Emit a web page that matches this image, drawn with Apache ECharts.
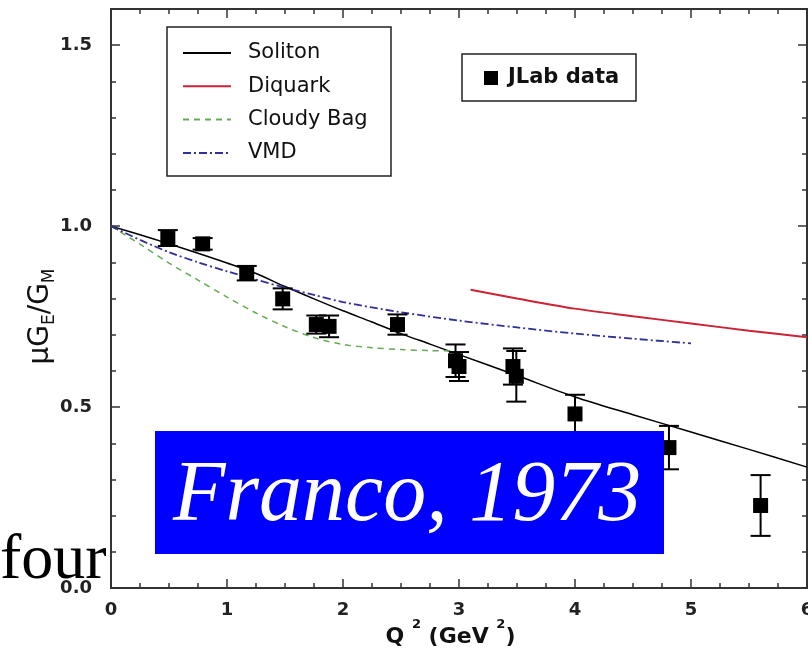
<!DOCTYPE html>
<html><head><meta charset="utf-8">
<script src="https://cdn.jsdelivr.net/npm/echarts@6/dist/echarts.min.js"></script>
<style>html,body{margin:0;padding:0;background:#fff;} #c{width:808px;height:658px;}</style>
</head><body><div id="c"></div>
<script>
// ---- data ----
const solitonX = [0, 0.25, 0.5, 0.75, 1, 1.25, 1.5, 1.75, 2, 2.25, 2.5, 2.75, 3, 3.5, 4, 4.5, 5, 5.5, 6];
const solitonY = [1.0, 0.976, 0.951, 0.925, 0.898, 0.869, 0.833, 0.799, 0.766, 0.735, 0.703, 0.674, 0.645, 0.587, 0.528, 0.479, 0.431, 0.383, 0.334];
const diquarkX = [3.1, 3.5, 4, 4.5, 5, 5.5, 6];
const diquarkY = [0.824, 0.800, 0.772, 0.751, 0.731, 0.711, 0.693];
const bagX = [0, 0.25, 0.5, 0.75, 1, 1.25, 1.5, 1.75, 2, 2.25, 2.5, 2.75, 2.95];
const bagY = [1.0, 0.950, 0.898, 0.851, 0.804, 0.760, 0.722, 0.692, 0.673, 0.664, 0.659, 0.656, 0.655];
const vmdX = [0, 0.25, 0.5, 0.75, 1, 1.25, 1.5, 1.75, 2, 2.5, 3, 3.5, 4, 4.5, 5];
const vmdY = [1.0, 0.962, 0.928, 0.900, 0.875, 0.852, 0.830, 0.810, 0.790, 0.762, 0.739, 0.720, 0.703, 0.689, 0.676];
const jlabX = [0.49, 0.79, 1.17, 1.48, 1.77, 1.88, 2.47, 2.97, 3.0, 3.465, 3.494, 4.0, 4.81, 5.6];
const jlabY = [0.967, 0.951, 0.870, 0.799, 0.728, 0.723, 0.728, 0.628, 0.612, 0.612, 0.585, 0.481, 0.388, 0.228];
const jlabErr = [0.022, 0.016, 0.020, 0.029, 0.025, 0.030, 0.028, 0.045, 0.040, 0.050, 0.070, 0.053, 0.060, 0.084];
const yTicks = ['0.0', '0.5', '1.0', '1.5'];
const xTicks = ['0', '1', '2', '3', '4', '5', '6'];
const legendNames = ['Soliton', 'Diquark', 'Cloudy Bag', 'VMD'];
const dataName = 'JLab data';
const stampText = 'Franco, 1973';
const sideText = 'four';

const zip = (xs, ys) => xs.map((x, i) => [x, ys[i]]);
const errData = jlabX.map((x, i) => [x, jlabY[i] - jlabErr[i], jlabY[i] + jlabErr[i]]);

const axisColor = '#333';
const tickFont = {fontFamily: 'DejaVu Sans', fontWeight: 'bold', fontSize: 18, color: '#222'};

function xAx(pos, labels) {
  return {
    type: 'value', position: pos, min: 0, max: 6, interval: 1,
    axisLine: {show: true, onZero: false, lineStyle: {color: axisColor, width: 2}},
    axisTick: {show: true, inside: true, length: 9, lineStyle: {color: axisColor, width: 1.5}},
    minorTick: {show: true, splitNumber: 4, length: 5, lineStyle: {color: axisColor, width: 1.5}},
    splitLine: {show: false}, minorSplitLine: {show: false},
    axisLabel: labels ? Object.assign({show: true, margin: 13, formatter: v => xTicks[Math.round(v)]}, tickFont) : {show: false}
  };
}
function yAx(pos, interval, len, labels) {
  return {
    type: 'value', position: pos, min: 0, max: 1.6, interval: interval,
    axisLine: {show: true, onZero: false, lineStyle: {color: axisColor, width: 2}},
    axisTick: {show: true, inside: true, length: len, lineStyle: {color: axisColor, width: 1.5}},
    splitLine: {show: false},
    axisLabel: labels ? Object.assign({show: true, margin: 19, showMaxLabel: false, formatter: v => yTicks[Math.round(v / 0.5)] || ''}, tickFont) : {show: false}
  };
}

const xMain = xAx('bottom', true);
xMain.name = '{m|Q }{p|2}{m| (GeV }{p|2}{m|)}{z|\u200b}';
xMain.nameLocation = 'middle';
xMain.nameGap = 30;
xMain.nameMoveOverlap = false;
xMain.nameTextStyle = {
  padding: [0, 17, 0, 0],
  rich: {
    m: {fontFamily: 'DejaVu Sans', fontWeight: 'bold', fontSize: 22, lineHeight: 24, verticalAlign: 'bottom', color: '#111'},
    p: {fontFamily: 'DejaVu Sans', fontWeight: 'bold', fontSize: 13, lineHeight: 13, verticalAlign: 'top', color: '#111'},
    z: {fontSize: 10, lineHeight: 30}
  }
};

const yMain = yAx('left', 0.5, 9, true);
yMain.name = '{m|\u03bcG}{s|E}{m|/G}{s|M}{z|\u200b}';
yMain.nameLocation = 'middle';
yMain.nameRotate = 90;
yMain.nameGap = 53;
yMain.nameMoveOverlap = false;
yMain.nameTextStyle = {
  padding: [0, 36, 0, 0],
  rich: {
    m: {fontFamily: 'DejaVu Sans', fontSize: 28, lineHeight: 28, verticalAlign: 'top', color: '#111'},
    s: {fontFamily: 'DejaVu Sans', fontSize: 17, lineHeight: 17, verticalAlign: 'bottom', color: '#111'},
    z: {fontSize: 10, lineHeight: 31}
  }
};

const option = {
  animation: false,
  backgroundColor: '#fff',
  grid: {left: 111, right: 1, top: 9, bottom: 70, containLabel: false, outerBoundsMode: 'none'},
  xAxis: [xMain, xAx('top', false)],
  yAxis: [yMain, yAx('right', 0.5, 9, false), yAx('left', 0.1, 5, false), yAx('right', 0.1, 5, false)],
  legend: [
    {
      data: legendNames, orient: 'vertical', left: 182, top: 41, padding: 0,
      itemWidth: 48, itemHeight: 12, itemGap: 9.3, selectedMode: false,
      itemStyle: {opacity: 0},
      textStyle: {fontFamily: 'DejaVu Sans', fontSize: 21, lineHeight: 24, color: '#111', padding: [0, 0, 0, 12]}
    },
    {
      data: [{name: dataName, icon: 'rect'}], left: 484, top: 66, padding: 0,
      itemWidth: 14, itemHeight: 14, selectedMode: false,
      itemStyle: {opacity: 1, color: '#000'},
      textStyle: {fontFamily: 'DejaVu Sans', fontWeight: 'bold', fontSize: 21, lineHeight: 24, color: '#111', padding: [0, 0, 0, 5]}
    }
  ],
  series: [
    {name: 'Soliton', type: 'line', data: zip(solitonX, solitonY), smooth: 0.3, symbol: 'none',
     lineStyle: {color: '#000', width: 1.5}, itemStyle: {color: '#000'}, z: 2},
    {name: 'Diquark', type: 'line', data: zip(diquarkX, diquarkY), smooth: 0.3, symbol: 'none',
     lineStyle: {color: '#cc2233', width: 2}, itemStyle: {color: '#cc2233'}, z: 2},
    {name: 'Cloudy Bag', type: 'line', data: zip(bagX, bagY), smooth: 0.3, symbol: 'none',
     lineStyle: {color: '#66aa55', width: 1.5, type: [6, 5]}, itemStyle: {color: '#66aa55'}, z: 2},
    {name: 'VMD', type: 'line', data: zip(vmdX, vmdY), smooth: 0.3, symbol: 'none',
     lineStyle: {color: '#30309a', width: 1.8, type: [8, 3, 2, 3]}, itemStyle: {color: '#30309a'}, z: 2},
    {name: 'errbars', type: 'custom', data: errData, z: 3, silent: true,
     encode: {x: 0, y: [1, 2]},
     renderItem: (params, api) => {
       const x = api.value(0);
       const p1 = api.coord([x, api.value(1)]);
       const p2 = api.coord([x, api.value(2)]);
       const hw = 10;
       const st = {stroke: '#000', lineWidth: 2};
       return {type: 'group', children: [
         {type: 'line', shape: {x1: p1[0], y1: p1[1], x2: p2[0], y2: p2[1]}, style: st},
         {type: 'line', shape: {x1: p1[0] - hw, y1: p1[1], x2: p1[0] + hw, y2: p1[1]}, style: st},
         {type: 'line', shape: {x1: p2[0] - hw, y1: p2[1], x2: p2[0] + hw, y2: p2[1]}, style: st}
       ]};
     }},
    {name: dataName, type: 'scatter', data: zip(jlabX, jlabY), symbol: 'rect', symbolSize: 15,
     itemStyle: {color: '#000', opacity: 1}, z: 4}
  ],
  graphic: [
    {type: 'rect', z: 10, shape: {x: 167, y: 27, width: 224, height: 149}, style: {fill: 'none', stroke: '#222', lineWidth: 1.5}},
    {type: 'rect', z: 10, shape: {x: 462, y: 54, width: 174, height: 47}, style: {fill: 'none', stroke: '#222', lineWidth: 1.5}},
    {type: 'rect', z: 100, shape: {x: 155, y: 431, width: 509, height: 123}, style: {fill: '#0000ff'}},
    {type: 'text', z: 101, x: 173, y: 497, style: {text: stampText, fill: '#fff', font: 'italic 86px "Liberation Serif"', verticalAlign: 'middle', align: 'left'}},
    {type: 'text', z: 102, x: 0, y: 561, style: {text: sideText, fill: '#000', font: '64px "Liberation Serif"', verticalAlign: 'middle', align: 'left'}}
  ]
};
const chart = echarts.init(document.getElementById('c'), null, {renderer: 'canvas'});
chart.setOption(option);
</script>
</body></html>
